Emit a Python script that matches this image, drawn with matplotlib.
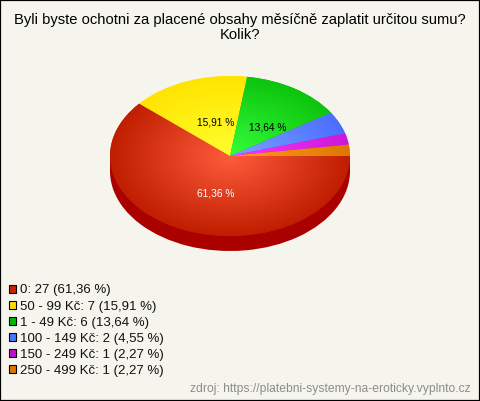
import numpy as np
import matplotlib
matplotlib.use("Agg")
import matplotlib.pyplot as plt
from matplotlib.patches import Patch, Rectangle

plt.rcParams['font.family'] = ['Liberation Sans', 'DejaVu Sans']

# DATA ------------------------------------------------------------------------
title = "Byli byste ochotni za placené obsahy měsíčně zaplatit určitou sumu?\nKolik?"
categories = ["0", "50 - 99 Kč", "1 - 49 Kč", "100 - 149 Kč", "150 - 249 Kč", "250 - 499 Kč"]
counts = [27, 7, 6, 2, 1, 1]
percents = [61.36, 15.91, 13.64, 4.55, 2.27, 2.27]
swatch_colors = ['#cc2200', '#ffdd00', '#00bb00', '#4477ff', '#bb11cc', '#dd7700']
inner_colors = ['#ff5c3e', '#ffff30', '#35ff3c', '#7ca2ff', '#ff35ff', '#ff9c1c']
outer_colors = ['#c01e00', '#ffe400', '#0cc40c', '#4b6eff', '#cc18d8', '#e07800']
label_colors = ['white', 'black', 'black']
source = "zdroj: https://platebni-systemy-na-eroticky.vyplnto.cz"

W, H = 480, 401
BG = '#f5f5ee'
CX, CY, RX, RY, DEPTH = 230, 156, 120, 80, 15
label_nudge = [(4.5, 0), (5, -3), (4, -3.5)]   # points, from the middle of the slice


def czech(p):
    return "{0:.2f} %".format(p).replace('.', ',')


fig = plt.figure(figsize=(W/100, H/100), dpi=100, facecolor=BG)

# PIE -------------------------------------------------------------------------
ax = fig.add_axes([(CX-RX)/W, 1-(CY+RY)/H, 2*RX/W, 2*RY/H])
offset = DEPTH/RY
ax.add_patch(Rectangle((-1, -offset), 2, offset, color='#aa0000', lw=0, clip_on=False))
ax.pie(counts, colors=['#aa0000']*len(counts), center=(0, -offset), radius=1,
       startangle=0, counterclock=False, wedgeprops={'clip_on': False})
wedges, _ = ax.pie(counts, colors=outer_colors, center=(0, 0), radius=1,
                   startangle=0, counterclock=False, wedgeprops={'clip_on': False})

# radial shading, one image per slice, clipped on its wedge
xx, yy = np.meshgrid(np.linspace(-1, 1, 300), np.linspace(-1, 1, 300))
t = np.clip(np.hypot(xx, yy), 0, 1)[..., None]
for wedge, c0, c1 in zip(wedges, inner_colors, outer_colors):
    rgb = np.array(matplotlib.colors.to_rgb(c0))*(1-t) + np.array(matplotlib.colors.to_rgb(c1))*t
    im = ax.imshow(rgb, extent=(-1, 1, -1, 1), origin='lower', aspect='auto',
                   interpolation='bilinear', zorder=2)
    im.set_clip_path(wedge)

ax.set_aspect('auto')
ax.set_xlim(-1, 1)
ax.set_ylim(-1, 1)

# percent labels for the big slices only
cum = np.cumsum([0] + counts)
for i in range(3):
    mid = np.deg2rad((cum[i]+cum[i+1])/2/cum[-1]*360)
    ax.annotate(czech(percents[i]), (0.5*np.cos(mid), -0.5*np.sin(mid)), xytext=label_nudge[i],
                textcoords='offset points', ha='center', va='center', fontsize=7.25,
                color=label_colors[i], zorder=3)

# TEXT AND LEGEND -------------------------------------------------------------
fig.text(0.5, 1-20/H, title.split("\n")[0], ha='center', va='center', fontsize=10.65, color='black')
fig.text(0.5, 1-35/H, title.split("\n")[1], ha='center', va='center', fontsize=10.65, color='black')

handles = [Patch(facecolor=c, edgecolor='black', lw=0.8) for c in swatch_colors]
labels = ["{0}: {1} ({2})".format(c, n, czech(p)) for c, n, p in zip(categories, counts, percents)]
fig.legend(handles, labels, loc='upper left', bbox_to_anchor=(9/W, 1-284.5/H), frameon=False,
           fontsize=9.5, handlelength=0.55, handleheight=0.55, handletextpad=0.3,
           labelspacing=0.31, borderaxespad=0, borderpad=0, labelcolor='#111111')

fig.text(1-9/W, 1-389/H, source, ha='right', va='center', fontsize=8.75, color='#8c8c8c')

fig.add_artist(Rectangle((0, 0), 1, 1, transform=fig.transFigure, fill=False,
                         edgecolor='black', lw=1.6, clip_on=True))

fig.savefig("out.png", dpi=100, facecolor=BG)
